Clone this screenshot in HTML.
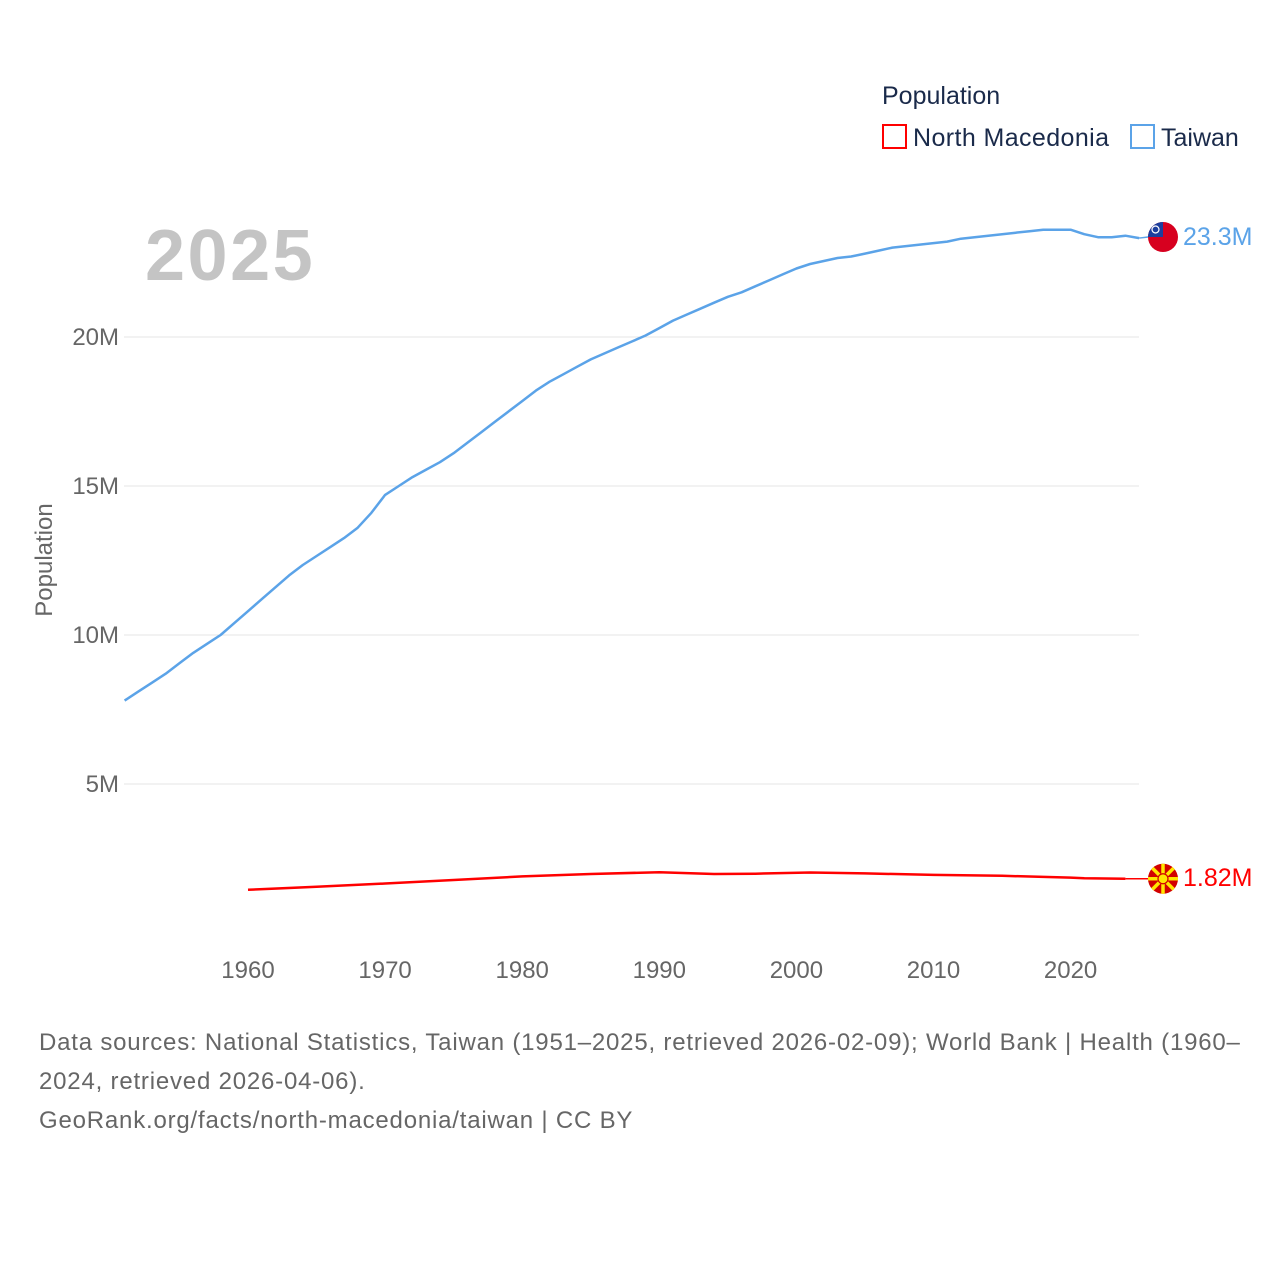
<!DOCTYPE html>
<html><head><meta charset="utf-8"><style>
body{margin:0;background:#fff;font-family:"Liberation Sans",sans-serif}
svg text{font-family:"Liberation Sans",sans-serif}
</style></head><body>
<svg id="chart" width="1280" height="1280">
<text x="882" y="104" font-size="25" fill="#1a2a4a">Population</text>
<rect x="883" y="125" width="23" height="23" fill="none" stroke="#ff0000" stroke-width="2"/>
<text x="913" y="146" font-size="25" fill="#1a2a4a" letter-spacing="0.4">North Macedonia</text>
<rect x="1131" y="125" width="23" height="23" fill="none" stroke="#5ba3e8" stroke-width="2"/>
<text x="1161" y="146" font-size="25" fill="#1a2a4a">Taiwan</text>
<text x="145" y="280" font-size="72" font-weight="bold" fill="#c4c4c4" letter-spacing="2.5">2025</text>
<text transform="translate(52,560) rotate(-90)" text-anchor="middle" font-size="24" fill="#666">Population</text>
<g id="grid"></g><g id="xt"></g><g id="lines"></g>
<text x="39" y="1050" font-size="24" fill="#666" letter-spacing="0.8">Data sources: National Statistics, Taiwan (1951–2025, retrieved 2026-02-09); World Bank | Health (1960–</text>
<text x="39" y="1089" font-size="24" fill="#666" letter-spacing="0.8">2024, retrieved 2026-04-06).</text>
<text x="39" y="1128" font-size="24" fill="#666" letter-spacing="0.8">GeoRank.org/facts/north-macedonia/taiwan | CC BY</text>
</svg>
<script>
const twYears=[];for(let y=1951;y<=2025;y++)twYears.push(y);
const twValues=[7.8,8.1,8.4,8.7,9.05,9.4,9.7,10.0,10.4,10.8,11.2,11.6,12.0,12.35,12.65,12.95,13.25,13.6,14.1,14.7,15.0,15.3,15.55,15.8,16.1,16.45,16.8,17.15,17.5,17.85,18.2,18.5,18.75,19.0,19.25,19.45,19.65,19.85,20.05,20.3,20.55,20.75,20.95,21.15,21.35,21.5,21.7,21.9,22.1,22.3,22.45,22.55,22.65,22.7,22.8,22.9,23.0,23.05,23.1,23.15,23.2,23.3,23.35,23.4,23.45,23.5,23.55,23.6,23.6,23.6,23.45,23.35,23.35,23.4,23.32];
const mkYears=[1960,1965,1970,1975,1980,1985,1990,1994,1997,2001,2005,2010,2015,2020,2021,2024];
const mkValues=[1.45,1.55,1.66,1.78,1.9,1.98,2.04,1.98,1.99,2.03,2.0,1.95,1.92,1.86,1.84,1.82];
const yTicks=[5,10,15,20];
const xTicks=[1960,1970,1980,1990,2000,2010,2020];
const X=y=>248+(y-1960)*13.71;
const Y=v=>933-v*29.8;
const NS="http://www.w3.org/2000/svg";
function mk(tag,attrs,parent){const e=document.createElementNS(NS,tag);for(const k in attrs)e.setAttribute(k,attrs[k]);parent.appendChild(e);return e;}
const grid=document.getElementById('grid');
yTicks.forEach(t=>{
 const l=mk('line',{x1:124,x2:1139,y1:Y(t),y2:Y(t),stroke:'#e6e6e6'},grid);
 
 
 const tx=mk('text',{x:119,y:Y(t)+8,'text-anchor':'end','font-size':24,fill:'#666'},grid);tx.textContent=t+'M';
 
 
});
const xt=document.getElementById('xt');
xTicks.forEach(t=>{
 const tx=mk('text',{x:X(t),y:978,'text-anchor':'middle','font-size':24,fill:'#666'},xt);tx.textContent=t;
 
 
});
const lines=document.getElementById('lines');
function pts(xs,vs){return xs.map((x,i)=>X(x).toFixed(1)+','+Y(vs[i]).toFixed(1)).join(' ');}
const tw=mk('polyline',{points:pts(twYears,twValues),fill:'none',stroke:'#5ba3e8','stroke-width':2.5,'stroke-linejoin':'round'},lines);


const mkl=mk('polyline',{points:pts(mkYears,mkValues),fill:'none',stroke:'#ff0000','stroke-width':2.5,'stroke-linejoin':'round'},lines);


const twL=twValues[twValues.length-1], mkL=mkValues[mkValues.length-1];
const cx=1163;
const ty=237;
mk('line',{x1:X(2025),x2:cx-15,y1:Y(twL),y2:ty,stroke:'#5ba3e8','stroke-width':1.5},lines);
mk('line',{x1:X(2024),x2:cx-15,y1:Y(mkL),y2:Y(mkL),stroke:'#ff0000','stroke-width':1.5},lines);
const tf=mk('g',{},lines);


mk('clipPath',{id:'cp1'},tf);
mk('circle',{cx:cx,cy:ty,r:15},tf.lastChild);
const tg=mk('g',{'clip-path':'url(#cp1)'},tf);
mk('rect',{x:cx-15,y:ty-15,width:30,height:30,fill:'#d7001f'},tg);
mk('rect',{x:cx-15,y:ty-15,width:15,height:15,fill:'#1c3f9e'},tg);
mk('circle',{cx:cx-7.5,cy:ty-7.5,r:3.5,fill:'none',stroke:'#fff','stroke-width':1.2},tg);
const tl=mk('text',{x:1183,y:ty+8,'font-size':25,fill:'#5ba3e8'},lines);tl.textContent=twL.toFixed(1)+'M';


const mf=mk('g',{},lines);


const my=Y(mkL);
mk('circle',{cx:cx,cy:my,r:15,fill:'#d20000'},mf);
for(let i=0;i<8;i++){const a=i*Math.PI/4;mk('line',{x1:cx,y1:my,x2:cx+15*Math.cos(a),y2:my+15*Math.sin(a),stroke:'#ffe600','stroke-width':3.5},mf);}
mk('circle',{cx:cx,cy:my,r:5,fill:'#ffe600',stroke:'#d20000','stroke-width':1.2},mf);
const ml=mk('text',{x:1183,y:my+7,'font-size':25,fill:'#ff0000'},lines);ml.textContent=mkL.toFixed(2)+'M';


</script>
</body></html>
